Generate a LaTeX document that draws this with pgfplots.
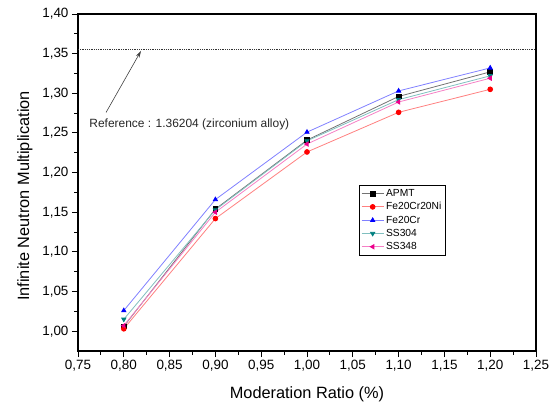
\documentclass[border=0pt]{standalone}
\usepackage{pgfplots}
\pgfplotsset{compat=1.18}
\usetikzlibrary{arrows.meta}
\usepackage{fontspec}
\setmainfont{Liberation Sans}

\definecolor{cteal}{RGB}{0,128,128}

\begin{document}
\begin{tikzpicture}
\begin{axis}[
  scale only axis,
  width=458bp, height=337bp,
  xmin=0.75, xmax=1.25,
  ymin=0.975, ymax=1.40,
  xtick={0.75,0.80,0.85,0.90,0.95,1.00,1.05,1.10,1.15,1.20,1.25},
  ytick={1.00,1.05,1.10,1.15,1.20,1.25,1.30,1.35,1.40},
  minor x tick num=1, minor y tick num=1,
  tick pos=left, tick align=outside,
  major tick length=6bp, minor tick length=3.5bp,
  axis line style={line width=1.1bp},
  every tick/.style={black, line width=0.9bp},
  /pgf/number format/.cd, fixed, fixed zerofill, precision=2, use comma, assume math mode=true,
  /pgfplots/.cd,
  ticklabel style={font=\fontsize{13.5}{15}\selectfont},
  xlabel={Moderation Ratio (\%)},
  ylabel={Infinite Neutron Multiplication},
  label style={font=\fontsize{16.4}{18}\selectfont},
  xlabel style={at={(axis description cs:0.5,-0.1276)}, anchor=center},
  ylabel style={at={(axis description cs:-0.1157,0.46)}, anchor=center},
  legend style={at={(axis description cs:0.6135,0.4926)}, anchor=north west,
    font=\fontsize{10.3}{12}\selectfont, draw=black, line width=0.6bp,
    row sep=0.6bp, inner sep=2bp, cells={anchor=west}},
  legend image code/.code={\draw[mark repeat=2,mark phase=2] plot coordinates {(0bp,0bp) (11bp,0bp) (22bp,0bp)};},
  legend cell align=left,
  every axis plot/.append style={line width=0.8bp, mark size=2.4bp},
]
\addplot[color=black!55, mark=square*, mark options={black, fill=black}]
  coordinates {(0.80,1.006) (0.90,1.154) (1.00,1.241) (1.10,1.296) (1.20,1.327)};
\addlegendentry{APMT}
\addplot[color=red!50, mark=*, mark options={red, fill=red}]
  coordinates {(0.80,1.003) (0.90,1.142) (1.00,1.226) (1.10,1.276) (1.20,1.305)};
\addlegendentry{Fe20Cr20Ni}
\addplot[color=blue!50, mark=triangle*, mark options={blue, fill=blue}]
  coordinates {(0.80,1.026) (0.90,1.166) (1.00,1.251) (1.10,1.303) (1.20,1.332)};
\addlegendentry{Fe20Cr}
\addplot[color=cteal!50, mark=triangle*, mark options={cteal, fill=cteal, rotate=180}]
  coordinates {(0.80,1.015) (0.90,1.153) (1.00,1.240) (1.10,1.292) (1.20,1.322)};
\addlegendentry{SS304}
\addplot[color=magenta!50, mark=triangle*, mark options={magenta, fill=magenta, rotate=90}]
  coordinates {(0.80,1.007) (0.90,1.150) (1.00,1.236) (1.10,1.289) (1.20,1.319)};
\addlegendentry{SS348}
\addplot[forget plot, black!80, densely dotted, line width=0.7bp, mark=none]
  coordinates {(0.75,1.355) (1.25,1.355)};
\draw[black!75, line width=0.6bp, -{Stealth[length=7bp,width=4bp]}]
  (axis cs:0.7806,1.2758) -- (axis cs:0.8188,1.3535);
\node[anchor=west, inner sep=0pt, text=black!85, font=\fontsize{12}{14}\selectfont]
  at (axis cs:0.7623,1.2608) {Reference : 1.36204 (zirconium alloy)};
\end{axis}
\pgfresetboundingbox
\path ([shift={(-78bp,-56bp)}]current axis.south west) rectangle ([shift={(21bp,14bp)}]current axis.north east);
\end{tikzpicture}
\end{document}
